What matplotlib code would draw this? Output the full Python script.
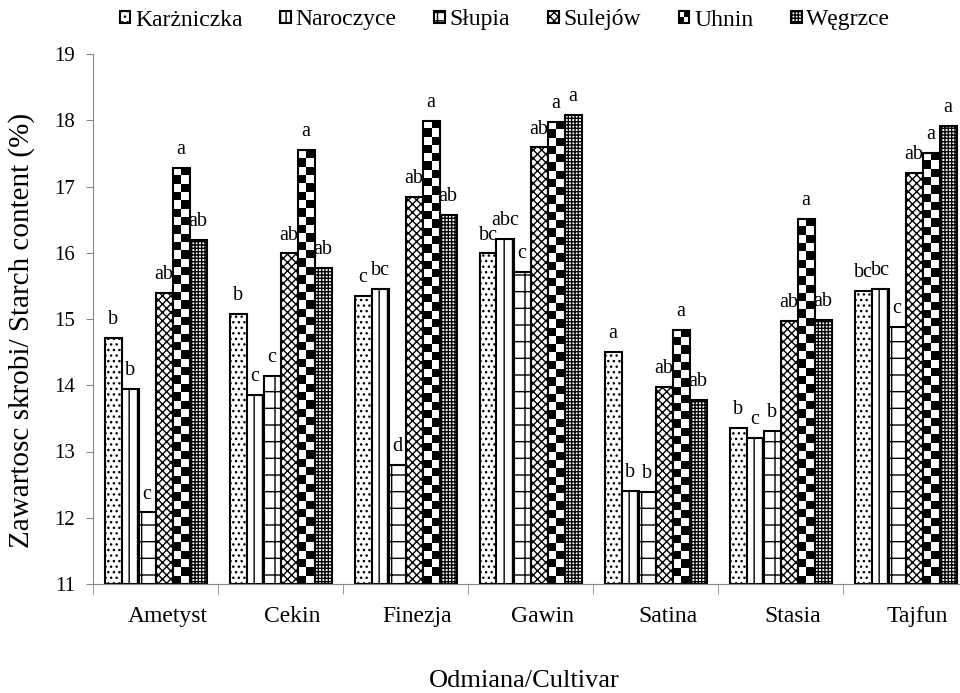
import numpy as np
import matplotlib
matplotlib.use('Agg')
import matplotlib.pyplot as plt
from matplotlib.patches import Rectangle
from matplotlib.colors import ListedColormap
from matplotlib.legend_handler import HandlerBase
from matplotlib.transforms import ScaledTranslation

plt.rcParams['font.family'] = ['Liberation Serif', 'DejaVu Serif']
plt.rcParams['hatch.linewidth'] = 1.0

# dane
cultivars = ['Ametyst', 'Cekin', 'Finezja', 'Gawin', 'Satina', 'Stasia', 'Tajfun']
locations = ['Karżniczka', 'Naroczyce', 'Słupia', 'Sulejów', 'Uhnin', 'Węgrzce']

karzniczka = [14.72, 15.08, 15.35, 15.99, 14.50, 13.35, 15.43]
naroczyce = [13.95, 13.85, 15.46, 16.21, 12.41, 13.20, 15.46]
slupia = [12.08, 14.14, 12.80, 15.71, 12.39, 13.31, 14.88]
sulejow = [15.40, 15.99, 16.84, 17.59, 13.97, 14.97, 17.21]
uhnin = [17.28, 17.55, 17.99, 17.98, 14.84, 16.51, 17.51]
wegrzce = [16.19, 15.77, 16.57, 18.08, 13.78, 14.98, 17.91]

let_karzniczka = ['b', 'b', 'c', 'bc', 'a', 'b', 'bc']
let_naroczyce = ['b', 'c', 'bc', 'abc', 'b', 'c', 'bc']
let_slupia = ['c', 'c', 'd', 'c', 'b', 'b', 'c']
let_sulejow = ['ab', 'ab', 'ab', 'ab', 'ab', 'ab', 'ab']
let_uhnin = ['a', 'a', 'a', 'a', 'a', 'a', 'a']
let_wegrzce = ['ab', 'ab', 'ab', 'a', 'ab', 'ab', 'a']

series = [karzniczka, naroczyce, slupia, sulejow, uhnin, wegrzce]
letters = [let_karzniczka, let_naroczyce, let_slupia, let_sulejow, let_uhnin, let_wegrzce]
hatches = ['...', '||', '+', 'xxxx', None, '+++++']
legend_hatches = ['...', '|||', '++', 'xxxx', None, '+++++']

base = 11
fig = plt.figure(figsize=(9.6, 6.93), dpi=100)
ax = fig.add_axes([93/960, 1-584/693, 875/960, 530/693])
ax.set_xlim(-0.5, 6.5)
ax.set_ylim(11, 19)

x = np.arange(len(cultivars))
w = 0.136
all_bars = []
for i, vals in enumerate(series):
    v = np.array(vals)
    pos = x + (i - 2.5) * w
    if hatches[i] is None:
        bars = ax.bar(pos, v - base, w, bottom=base, facecolor='none',
                      edgecolor='black', linewidth=1.5, zorder=3)
    else:
        bars = ax.bar(pos, v - base, w, bottom=base, facecolor='white',
                      edgecolor='black', hatch=hatches[i], linewidth=1.5, zorder=2)
    all_bars.append(bars)
    for p, val, lab in zip(pos, v, letters[i]):
        ax.text(p, val + 0.21, lab, ha='center', va='baseline', fontsize=14.5, zorder=1)

# szachownica dla Uhnin
px_per_unit = (ax.transData.transform((0, 1))[1] - ax.transData.transform((0, 0))[1])
checker_cmap = ListedColormap(['white', 'black'])
for rect in all_bars[4]:
    x0, y0 = rect.get_x(), rect.get_y()
    rw, rh = rect.get_width(), rect.get_height()
    nrows = max(1, int(round(rh * px_per_unit / 8.3)))
    img = np.indices((nrows, 2)).sum(axis=0) % 2
    ax.imshow(img, extent=(x0, x0 + rw, y0, y0 + rh), origin='upper', cmap=checker_cmap,
              aspect='auto', interpolation='nearest', zorder=2.5)
ax.set_xlim(-0.5, 6.5)
ax.set_ylim(11, 19)

# osie
for s in ['top', 'right']:
    ax.spines[s].set_visible(False)
ax.spines['left'].set_color('#888888')
ax.spines['bottom'].set_color('#888888')
ax.set_yticks(range(11, 20))
ax.tick_params(axis='y', colors='#888888', labelcolor='black', labelsize=15, length=5, pad=8)
ax.set_xticks(x)
ax.set_xticklabels(cultivars)
ax.set_xticks(np.arange(-0.5, 7, 1), minor=True)
ax.tick_params(axis='x', which='major', length=0, labelsize=17, pad=16)
ax.tick_params(axis='x', which='minor', length=7, color='#888888')
for lab in ax.get_xticklabels():
    lab.set_transform(lab.get_transform() + ScaledTranslation(0.12, 0, fig.dpi_scale_trans))

fig.text(22/960, 1-330/693, 'Zawartosc skrobi/ Starch content (%)', rotation=90,
         ha='center', va='center', fontsize=21)
fig.text(524/960, 1-681/693, 'Odmiana/Cultivar', ha='center', va='center', fontsize=19)


class CheckerHandler(HandlerBase):
    def create_artists(self, legend, orig_handle, xdescent, ydescent, width, height, fontsize, trans):
        x0, y0 = -xdescent, -ydescent
        arts = [Rectangle((x0, y0), width, height, facecolor='white', edgecolor='none', transform=trans),
                Rectangle((x0 + width/2, y0 + height/2), width/2, height/2, facecolor='black',
                          edgecolor='none', transform=trans),
                Rectangle((x0, y0), width/2, height/2, facecolor='black', edgecolor='none', transform=trans),
                Rectangle((x0, y0), width, height, facecolor='none', edgecolor='black', lw=1.5, transform=trans)]
        return arts


handles = []
for i in range(len(locations)):
    if legend_hatches[i] is None:
        handles.append(Rectangle((0, 0), 1, 1, facecolor='white', edgecolor='black'))
    else:
        handles.append(Rectangle((0, 0), 1, 1, facecolor='white', edgecolor='black',
                                 hatch=legend_hatches[i], lw=1.5))
fig.legend(handles, locations, loc='center', bbox_to_anchor=(505/960, 1-20/693), ncol=6,
           frameon=False, handlelength=0.45, handleheight=0.45, handletextpad=0.2,
           columnspacing=1.6, fontsize=17, handler_map={handles[4]: CheckerHandler()})

fig.savefig('out.png', dpi=100)
